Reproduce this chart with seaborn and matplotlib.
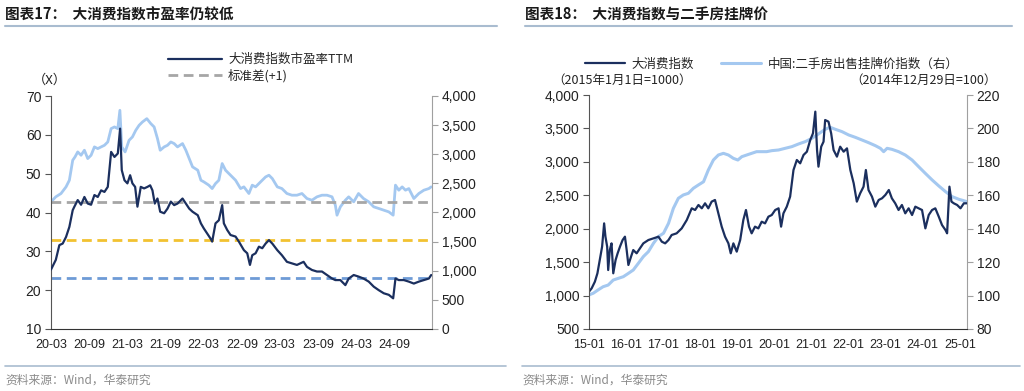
import numpy as np
import pandas as pd
import matplotlib
matplotlib.use("Agg")
import matplotlib.pyplot as plt
import matplotlib.dates as mdates
from matplotlib.lines import Line2D
import seaborn as sns

# ---------------- data: left chart ----------------
pe_dates = ["2020-03-01","2020-03-24","2020-04-10","2020-04-26","2020-05-12","2020-05-28","2020-06-13","2020-06-21",
            "2020-07-07","2020-07-23","2020-08-08","2020-08-24","2020-09-09","2020-09-25","2020-10-11","2020-10-27",
            "2020-11-12","2020-11-28","2020-12-14","2020-12-30","2021-01-15","2021-01-26","2021-02-03","2021-02-16",
            "2021-03-02","2021-03-15","2021-03-26","2021-04-08","2021-04-19","2021-05-05","2021-05-21","2021-06-06",
            "2021-06-19","2021-06-30","2021-07-11","2021-07-24","2021-08-06","2021-08-25","2021-09-10","2021-09-26",
            "2021-10-12","2021-10-28","2021-11-21","2021-12-07","2021-12-23","2022-01-08","2022-02-02","2022-02-17",
            "2022-03-03","2022-03-19","2022-04-04","2022-04-12","2022-04-28","2022-05-14","2022-05-30","2022-06-07",
            "2022-06-23","2022-07-09","2022-08-02","2022-08-18","2022-09-11","2022-09-27","2022-10-10","2022-10-21",
            "2022-11-06","2022-11-22","2022-12-08","2022-12-24","2023-01-09","2023-01-25","2023-02-18","2023-03-12",
            "2023-04-05","2023-04-29","2023-05-23","2023-06-08","2023-06-24","2023-07-10","2023-08-03","2023-08-27",
            "2023-09-20","2023-10-14","2023-11-07","2023-11-23","2023-12-17","2024-01-10","2024-01-26","2024-02-19",
            "2024-03-13","2024-04-06","2024-05-01","2024-05-25","2024-06-18","2024-07-12","2024-08-05","2024-08-26",
            "2024-09-06","2024-09-22","2024-10-16","2024-11-09","2024-12-03","2024-12-27","2025-01-20","2025-02-13",
            "2025-02-24"]
pe_ttm = [25.3,27.8,31.6,32.0,33.7,36.3,40.6,41.5,43.2,42.0,44.0,42.3,42.0,44.5,44.0,45.7,
          45.3,46.6,55.6,54.3,55.2,61.6,50.9,48.3,47.5,49.6,47.5,46.6,41.5,46.6,46.2,46.6,
          47.0,45.7,42.3,43.6,40.2,39.8,41.0,42.8,41.9,42.3,43.6,42.3,41.0,40.2,39.3,37.2,
          35.9,34.6,33.3,32.5,37.2,38.0,41.9,37.2,35.5,34.2,33.8,32.5,30.3,29.5,26.5,29.0,
          29.5,31.2,30.8,32.0,32.9,32.0,30.3,29.0,27.3,26.9,26.5,26.9,27.3,26.0,25.2,24.8,
          24.8,23.9,23.0,22.6,22.6,21.3,23.0,23.9,23.5,23.0,22.2,20.9,20.0,19.2,18.8,17.9,
          23.0,22.6,22.6,22.2,21.7,22.2,22.6,23.0,23.9]

idx_dates = ["2020-03-01","2020-03-24","2020-04-18","2020-05-12","2020-05-28","2020-06-13","2020-06-24","2020-07-07",
             "2020-07-23","2020-08-08","2020-08-24","2020-09-09","2020-09-25","2020-10-11","2020-10-27","2020-11-12",
             "2020-11-28","2020-12-14","2020-12-30","2021-01-15","2021-01-25","2021-02-03","2021-02-19","2021-03-10",
             "2021-03-26","2021-04-11","2021-04-27","2021-05-13","2021-06-03","2021-06-22","2021-07-08","2021-07-24",
             "2021-08-06","2021-08-25","2021-09-10","2021-09-26","2021-10-12","2021-10-28","2021-11-21","2021-12-07",
             "2021-12-23","2022-01-08","2022-02-02","2022-02-17","2022-03-03","2022-03-27","2022-04-12","2022-04-28",
             "2022-05-14","2022-05-30","2022-06-15","2022-07-09","2022-08-02","2022-08-26","2022-09-11","2022-10-05",
             "2022-10-21","2022-11-06","2022-11-30","2022-12-24","2023-01-09","2023-01-25","2023-02-18","2023-03-12",
             "2023-04-05","2023-04-29","2023-05-23","2023-06-16","2023-07-10","2023-08-03","2023-08-27","2023-09-20",
             "2023-10-14","2023-11-07","2023-11-23","2023-12-01","2023-12-17","2024-01-10","2024-01-26","2024-02-19",
             "2024-03-13","2024-04-06","2024-05-01","2024-05-25","2024-06-18","2024-07-12","2024-08-05","2024-08-26",
             "2024-09-06","2024-09-22","2024-10-08","2024-10-24","2024-11-09","2024-12-03","2024-12-27","2025-01-20",
             "2025-02-13","2025-02-24"]
idx_level = [2183,2269,2326,2440,2554,2897,2954,3040,2983,3069,2926,2983,3126,3097,3126,3154,
             3211,3440,3469,3440,3754,3126,3040,3240,3297,3411,3497,3554,3611,3526,3469,3269,
             3069,3126,3154,3211,3183,3126,3183,3069,2926,2783,2726,2554,2526,2469,2411,2497,
             2554,2840,2726,2640,2554,2411,2440,2326,2469,2440,2526,2611,2640,2583,2440,2411,
             2326,2297,2297,2326,2240,2211,2269,2297,2297,2269,2126,1954,2097,2211,2269,2183,
             2326,2240,2183,2097,2069,2040,2011,1954,2469,2383,2440,2383,2411,2240,2326,2383,
             2411,2440]

band_levels = [42.75, 32.9, 23.2]   # +1 std, mean, -1 std
band_colors = ["#A6A6A6", "#F2C231", "#6E9BD6"]

left_ticks = ["2020-03-01","2020-09-01","2021-03-01","2021-09-01","2022-03-01",
              "2022-09-01","2023-03-01","2023-09-01","2024-03-01","2024-09-01"]
left_ticklabels = ["20-03","20-09","21-03","21-09","22-03","22-09","23-03","23-09","24-03","24-09"]

# ---------------- data: right chart ----------------
cons_dates = ["2015-01-01","2015-01-27","2015-02-28","2015-03-25","2015-04-17","2015-05-10","2015-05-30","2015-06-12",
              "2015-06-29","2015-07-09","2015-07-25","2015-08-11","2015-08-28","2015-09-20","2015-10-10","2015-11-02",
              "2015-11-28","2015-12-21","2016-01-07","2016-01-24","2016-02-19","2016-03-12","2016-04-14","2016-05-17",
              "2016-06-19","2016-08-08","2016-09-27","2016-11-15","2016-12-18","2017-01-20","2017-02-22","2017-03-25",
              "2017-05-13","2017-07-02","2017-08-21","2017-10-09","2017-11-11","2017-12-14","2018-01-16","2018-02-17",
              "2018-03-21","2018-04-23","2018-05-26","2018-06-28","2018-07-31","2018-09-02","2018-10-05","2018-10-28",
              "2018-11-23","2018-12-26","2019-01-29","2019-03-01","2019-03-27","2019-04-26","2019-05-22","2019-06-24",
              "2019-07-27","2019-08-29","2019-10-01","2019-11-03","2019-12-06","2020-01-09","2020-02-11","2020-03-07",
              "2020-03-30","2020-05-02","2020-06-04","2020-07-07","2020-08-09","2020-09-11","2020-10-14","2020-11-16",
              "2020-12-19","2021-01-15","2021-02-07","2021-02-24","2021-03-10","2021-04-06","2021-04-29","2021-05-15",
              "2021-06-17","2021-07-13","2021-08-06","2021-09-08","2021-10-10","2021-11-13","2021-12-16","2022-01-18",
              "2022-02-20","2022-03-23","2022-04-25","2022-05-28","2022-06-20","2022-07-16","2022-08-19","2022-09-21",
              "2022-10-24","2022-11-26","2022-12-29","2023-02-01","2023-03-03","2023-04-05","2023-05-08","2023-06-10",
              "2023-07-13","2023-08-15","2023-09-18","2023-10-20","2023-11-22","2023-12-25","2024-01-27","2024-02-29",
              "2024-04-02","2024-05-04","2024-06-07","2024-07-09","2024-08-12","2024-08-28","2024-09-20","2024-10-10",
              "2024-11-02","2024-12-05","2025-01-07","2025-02-09","2025-03-12"]
cons_index = [1058,1108,1208,1333,1532,1731,2080,1881,1731,1382,1681,1781,1333,1532,1632,1731,
              1831,1881,1681,1457,1582,1681,1632,1707,1781,1831,1856,1881,1806,1781,1831,1906,
              1931,2005,2130,2305,2280,2355,2305,2380,2305,2405,2430,2230,2031,1881,1781,1632,
              1781,1657,1831,2130,2280,2031,1931,2031,2005,2105,2080,2180,2205,2280,2305,2031,
              2230,2330,2480,2878,3028,2978,3103,3152,3327,3427,3751,3177,2928,3227,3302,3626,
              3601,3427,3177,3078,3227,3152,3202,2878,2679,2405,2530,2629,2878,2579,2480,2330,
              2430,2455,2505,2579,2455,2380,2280,2355,2230,2305,2205,2330,2305,2280,2005,2205,
              2280,2305,2180,2055,1980,1931,2629,2405,2380,2355,2305,2380,2380]

house_dates = ["2015-01-01","2015-02-12","2015-04-01","2015-05-20","2015-07-09","2015-08-28","2015-10-16","2015-12-05",
               "2016-01-24","2016-03-12","2016-05-01","2016-06-19","2016-08-08","2016-09-27","2016-11-15","2017-01-04",
               "2017-02-22","2017-04-11","2017-05-30","2017-07-18","2017-09-06","2017-10-25","2017-12-14","2018-02-02",
               "2018-03-21","2018-05-10","2018-06-28","2018-08-17","2018-10-05","2018-11-23","2019-01-06","2019-02-14",
               "2019-04-03","2019-05-22","2019-07-10","2019-08-29","2019-10-17","2019-12-06","2020-02-11","2020-04-16",
               "2020-06-21","2020-08-26","2020-10-31","2021-01-05","2021-03-10","2021-05-15","2021-07-03","2021-08-22",
               "2021-10-27","2022-01-01","2022-03-07","2022-05-12","2022-07-16","2022-09-21","2022-11-10","2022-12-12",
               "2023-01-15","2023-03-03","2023-05-08","2023-07-13","2023-09-18","2023-11-22","2024-01-27","2024-04-02",
               "2024-06-07","2024-08-12","2024-10-16","2024-12-22","2025-03-12"]
house_price = [100.4,101.4,103.4,105.3,106.3,109.3,110.3,111.3,113.3,115.3,119.3,123.3,126.3,131.3,135.3,137.3,
               143.2,152.2,158.2,160.2,161.2,164.2,166.2,168.1,175.1,181.1,184.1,185.1,184.1,182.1,181.1,183.1,
               184.1,185.1,186.1,186.1,186.1,186.7,187.1,188.1,189.1,190.7,192.1,194.1,196.7,199.5,200.7,199.5,
               198.1,196.1,194.7,193.1,191.5,189.7,188.1,186.1,188.1,187.5,186.1,184.1,181.1,177.1,173.1,169.2,
               165.6,162.2,159.2,157.6,156.2]

right_ticks = ["2015-01-01","2016-01-01","2017-01-01","2018-01-01","2019-01-01","2020-01-01",
               "2021-01-01","2022-01-01","2023-01-01","2024-01-01","2025-01-01"]
right_ticklabels = ["15-01","16-01","17-01","18-01","19-01","20-01","21-01","22-01","23-01","24-01","25-01"]

# ---------------- style ----------------
sns.set_style("white")
plt.rcParams['font.family'] = ['Liberation Sans', 'Noto Sans CJK SC', 'DejaVu Sans']
CJK = ['Noto Sans CJK SC', 'Liberation Sans', 'DejaVu Sans']
NAVY = "#1B2F5E"
LIGHT = "#A4C8F0"
RULE = "#A9BCD0"

W, H = 1024, 391
fig = plt.figure(figsize=(W / 100, H / 100), dpi=100)

def rect(l, t, r, b):
    return [l / W, 1 - b / H, (r - l) / W, (b - t) / H]

def style_axes(ax, ax2):
    for a in (ax, ax2):
        a.spines['top'].set_visible(False)
        a.tick_params(axis='both', direction='out', length=4, width=0.8,
                      labelsize=10, colors='#222222', pad=3)
        a.grid(False)
    ax.spines['left'].set_color('#555555')
    ax.spines['bottom'].set_color('#333333')
    ax.spines['right'].set_visible(False)
    ax2.spines['right'].set_color('#A0A0A0')
    ax2.spines['left'].set_visible(False)
    ax2.spines['bottom'].set_visible(False)
    ax2.tick_params(axis='y', colors='#A0A0A0', labelcolor='#222222')
    ax.tick_params(axis='y', colors='#555555', labelcolor='#222222')
    ax.tick_params(axis='x', colors='#333333', labelcolor='#222222', labelsize=9)
    ax.set_xlabel("")
    ax.set_ylabel("")
    ax2.set_xlabel("")
    ax2.set_ylabel("")
    ax.set_zorder(ax2.get_zorder() + 1)
    ax.patch.set_visible(False)

# ---------------- left chart ----------------
axL = fig.add_axes(rect(51, 96, 432, 329))
axL2 = axL.twinx()
df_pe = pd.DataFrame({"date": pd.to_datetime(pe_dates), "pe": pe_ttm})
df_idx = pd.DataFrame({"date": pd.to_datetime(idx_dates), "v": idx_level})
sns.lineplot(data=df_idx, x="date", y="v", ax=axL2, color=LIGHT, lw=2.0)
for lvl, c in zip(band_levels, band_colors):
    axL.axhline(lvl, color=c, lw=2.0, ls=(0, (3.5, 2)), zorder=2)
sns.lineplot(data=df_pe, x="date", y="pe", ax=axL, color=NAVY, lw=1.6, zorder=3)
axL.set_ylim(10, 70)
axL.set_yticks(np.arange(10, 71, 10))
axL2.set_ylim(0, 4000)
axL2.set_yticks(np.arange(0, 4001, 500))
axL2.yaxis.set_major_formatter(matplotlib.ticker.FuncFormatter(lambda v, p: f"{int(v):,}"))
axL.set_xlim(pd.Timestamp("2020-03-01"), pd.Timestamp("2025-02-28"))
axL.set_xticks(pd.to_datetime(left_ticks))
axL.set_xticklabels(left_ticklabels)
style_axes(axL, axL2)

fig.text(50 / W, 1 - 80 / H, "（X）", fontsize=9.5, family=CJK, ha='center', va='center', color='#222222')
h1 = Line2D([], [], color=NAVY, lw=1.6)
h2 = Line2D([], [], color="#A6A6A6", lw=2.0, ls=(0, (3.5, 2)))
fig.legend([h1, h2], ["大消费指数市盈率TTM", "标准差(+1)"], loc='center left',
           bbox_to_anchor=(163 / W, 1 - 68 / H), frameon=False, prop={'family': CJK, 'size': 9},
           handlelength=4.3, handletextpad=0.5, labelspacing=0.25, borderaxespad=0)

# ---------------- right chart ----------------
axR = fig.add_axes(rect(589, 95, 967, 329))
axR2 = axR.twinx()
df_c = pd.DataFrame({"date": pd.to_datetime(cons_dates), "v": cons_index})
df_h = pd.DataFrame({"date": pd.to_datetime(house_dates), "v": house_price})
sns.lineplot(data=df_h, x="date", y="v", ax=axR2, color=LIGHT, lw=2.2)
sns.lineplot(data=df_c, x="date", y="v", ax=axR, color=NAVY, lw=1.6)
axR.set_ylim(500, 4000)
axR.set_yticks(np.arange(500, 4001, 500))
axR.yaxis.set_major_formatter(matplotlib.ticker.FuncFormatter(lambda v, p: f"{int(v):,}"))
axR2.set_ylim(80, 220)
axR2.set_yticks(np.arange(80, 221, 20))
axR.set_xlim(pd.Timestamp("2015-01-01"), pd.Timestamp("2025-03-12"))
axR.set_xticks(pd.to_datetime(right_ticks))
axR.set_xticklabels(right_ticklabels)
style_axes(axR, axR2)

g1 = Line2D([], [], color=NAVY, lw=1.6)
g2 = Line2D([], [], color=LIGHT, lw=2.2)
fig.legend([g1, g2], ["大消费指数", "中国:二手房出售挂牌价指数（右）"], loc='center left',
           bbox_to_anchor=(580 / W, 1 - 64 / H), frameon=False, prop={'family': CJK, 'size': 9},
           ncol=2, handlelength=3.2, handletextpad=0.5, columnspacing=2.2, borderaxespad=0)
fig.text(622 / W, 1 - 80 / H, "（2015年1月1日=1000）", fontsize=9, family=CJK, ha='center', va='center', color='#222222')
fig.text(997 / W, 1 - 80 / H, "（2014年12月29日=100）", fontsize=9, family=CJK, ha='right', va='center', color='#222222')

# ---------------- titles / rules / footers ----------------
for x0, x1, title in [(5, 497, "图表17：  大消费指数市盈率仍较低"), (525, 1012, "图表18：  大消费指数与二手房挂牌价")]:
    fig.text(x0 / W, 1 - 15 / H, title, fontsize=10.5, fontweight='bold', family=CJK,
             ha='left', va='center', color='#1a1a1a')
    fig.add_artist(Line2D([x0 / W, x1 / W], [1 - 26 / H, 1 - 26 / H], color=RULE, lw=1.5))
for x0, x1 in [(5, 506), (522, 1020)]:
    fig.add_artist(Line2D([x0 / W, x1 / W], [1 - 366 / H, 1 - 366 / H], color=RULE, lw=1.2))
    fig.text(x0 / W, 1 - 380 / H, "资料来源：Wind，华泰研究", fontsize=8.5, family=CJK,
             ha='left', va='center', color='#8a8a8a')

fig.savefig("out.png", dpi=100)
